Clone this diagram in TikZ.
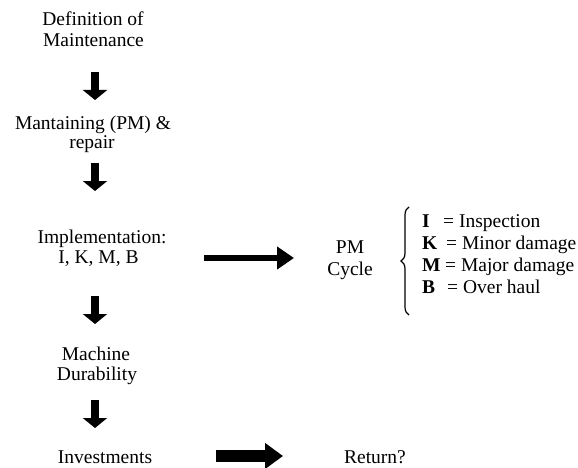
\documentclass[tikz,border=0pt]{standalone}
\usepackage{fontspec}
\setmainfont{Liberation Serif}
\usetikzlibrary{arrows.meta,decorations.pathreplacing}
\tikzset{
  txt/.style={anchor=base, inner sep=0pt, font=\fontsize{19.5}{21.5}\selectfont},
  ltxt/.style={anchor=base west, inner sep=0pt, font=\fontsize{19.5}{21.5}\selectfont},
  downarrow/.style={draw=black, line width=7.5pt, -{Triangle[width=24pt,length=10pt]}},
  rarrowA/.style={draw=black, line width=6pt, -{Triangle[width=22pt,length=17pt]}},
  rarrowB/.style={draw=black, line width=12pt, -{Triangle[width=25pt,length=18pt]}},
  bracestyle/.style={draw=black, line width=1.2pt, decorate, decoration={brace, amplitude=8pt}}
}
\begin{document}
\begin{tikzpicture}[x=1pt,y=-1pt]
\useasboundingbox (0,0) rectangle (578,468);
% texts
\node[txt] (def1) at (93,26) {Definition of};
\node[txt] (def2) at (93.5,47) {Maintenance};
\node[txt] (man1) at (93,129) {Mantaining (PM) \&};
\node[txt] (man2) at (92,149) {repair};
\node[txt] (imp1) at (102,243) {Implementation:};
\node[txt] (imp2) at (98.5,263) {I, K, M, B};
\node[txt] (pm1) at (350,253) {PM};
\node[txt] (pm2) at (350,275) {Cycle};
\node[txt] (mac1) at (96,360) {Machine};
\node[txt] (mac2) at (97,380) {Durability};
\node[txt] (inv) at (105,463) {Investments};
\node[txt] (ret) at (375,463) {Return?};
% list
\node[ltxt] (lI) at (422,227) {\textbf{I}};
\node[ltxt] (eI) at (443,227) {= Inspection};
\node[ltxt] (lK) at (422,249.5) {\textbf{K}};
\node[ltxt] (eK) at (446,249.5) {= Minor damage};
\node[ltxt] (lM) at (422,271.5) {\textbf{M}};
\node[ltxt] (eM) at (445,271.5) {= Major damage};
\node[ltxt] (lB) at (422,293.5) {\textbf{B}};
\node[ltxt] (eB) at (447,293.5) {= Over haul};
% brace
\coordinate (brb) at (409,315);
\coordinate (brt) at (409,207);
\draw[bracestyle] (brb) -- (brt);
% arrow end points
\coordinate (d1s) at (95,72);  \coordinate (d1e) at (95,100);
\coordinate (d2s) at (95,163); \coordinate (d2e) at (95,191);
\coordinate (d3s) at (95,296); \coordinate (d3e) at (95,324);
\coordinate (d4s) at (95,400); \coordinate (d4e) at (95,428);
\coordinate (r1s) at (204,258); \coordinate (r1e) at (294,258);
\coordinate (r2s) at (216,456); \coordinate (r2e) at (283,456);
\draw[downarrow] (d1s) -- (d1e);
\draw[downarrow] (d2s) -- (d2e);
\draw[downarrow] (d3s) -- (d3e);
\draw[downarrow] (d4s) -- (d4e);
\draw[rarrowA] (r1s) -- (r1e);
\draw[rarrowB] (r2s) -- (r2e);
\end{tikzpicture}
\end{document}
